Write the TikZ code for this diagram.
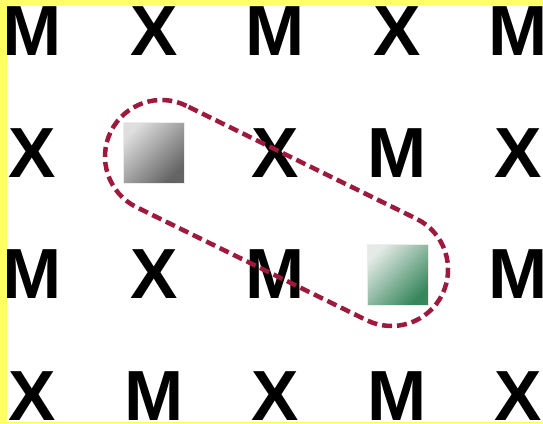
\documentclass[tikz,border=0pt]{standalone}
\usepackage{fontspec}
\setmainfont{Liberation Sans}
\definecolor{bordery}{RGB}{255,255,102}
\definecolor{capred}{RGB}{158,26,60}
\definecolor{sqgreen}{RGB}{55,135,92}
\definecolor{sqgreenl}{RGB}{228,234,230}
\definecolor{sqgrayd}{RGB}{100,100,100}
\definecolor{sqgrayl}{RGB}{222,222,222}
\begin{document}
\begin{tikzpicture}[x=1pt,y=1pt,
  letter/.style={font=\fontsize{71}{71}\selectfont\bfseries, inner sep=0pt, anchor=center, text=black},
  capsule/.style={draw=capred, line width=4.5pt, dash pattern=on 10pt off 5pt},
  sqbox/.style={minimum size=61pt, inner sep=0pt, draw=white!85!gray, line width=0.6pt},
  graysq/.style={sqbox, top color=sqgrayl, bottom color=sqgrayd, shading angle=45},
  greensq/.style={sqbox, top color=sqgreenl, bottom color=sqgreen, shading angle=45}]
\useasboundingbox (0,0) rectangle (543,-423);
\fill[bordery] (0,0) rectangle (543,-423);
\fill[white] (7,-5) rectangle (543,-421.5);
\begin{scope}
\clip (7,-5) rectangle (543,-421.5);
% row 1
\node[letter] (a1) at (32.5,-31) {M};
\node[letter] (a2) at (154,-31) {X};
\node[letter] (a3) at (275.5,-31) {M};
\node[letter] (a4) at (397,-31) {X};
\node[letter] (a5) at (518.5,-31) {M};
% row 2
\node[letter] (b1) at (32.5,-152.8) {X};
\node[letter] (b3) at (275.5,-152.8) {X};
\node[letter] (b4) at (397,-152.8) {M};
\node[letter] (b5) at (518.5,-152.8) {X};
% row 3
\node[letter] (c1) at (32.5,-274.4) {M};
\node[letter] (c2) at (154,-274.4) {X};
\node[letter] (c3) at (275.5,-274.4) {M};
\node[letter] (c5) at (518.5,-274.4) {M};
% row 4
\node[letter] (d1) at (32.5,-396.3) {X};
\node[letter] (d2) at (154,-396.3) {M};
\node[letter] (d3) at (275.5,-396.3) {X};
\node[letter] (d4) at (397,-396.3) {M};
\node[letter] (d5) at (518.5,-396.3) {X};
\end{scope}
% squares
\node[graysq] (gray) at (153.5,-152.5) {};
\node[greensq] (green) at (397.5,-274.5) {};
% capsule
\begin{scope}[shift={(161.5,-156.5)}, rotate=-26.16]
\draw[capsule] (0,56.5) arc[start angle=90, end angle=270, radius=56.5]
  -- (256.3,-56.5) arc[start angle=-90, end angle=90, radius=56.5] -- cycle;
\end{scope}
\end{tikzpicture}
\end{document}
